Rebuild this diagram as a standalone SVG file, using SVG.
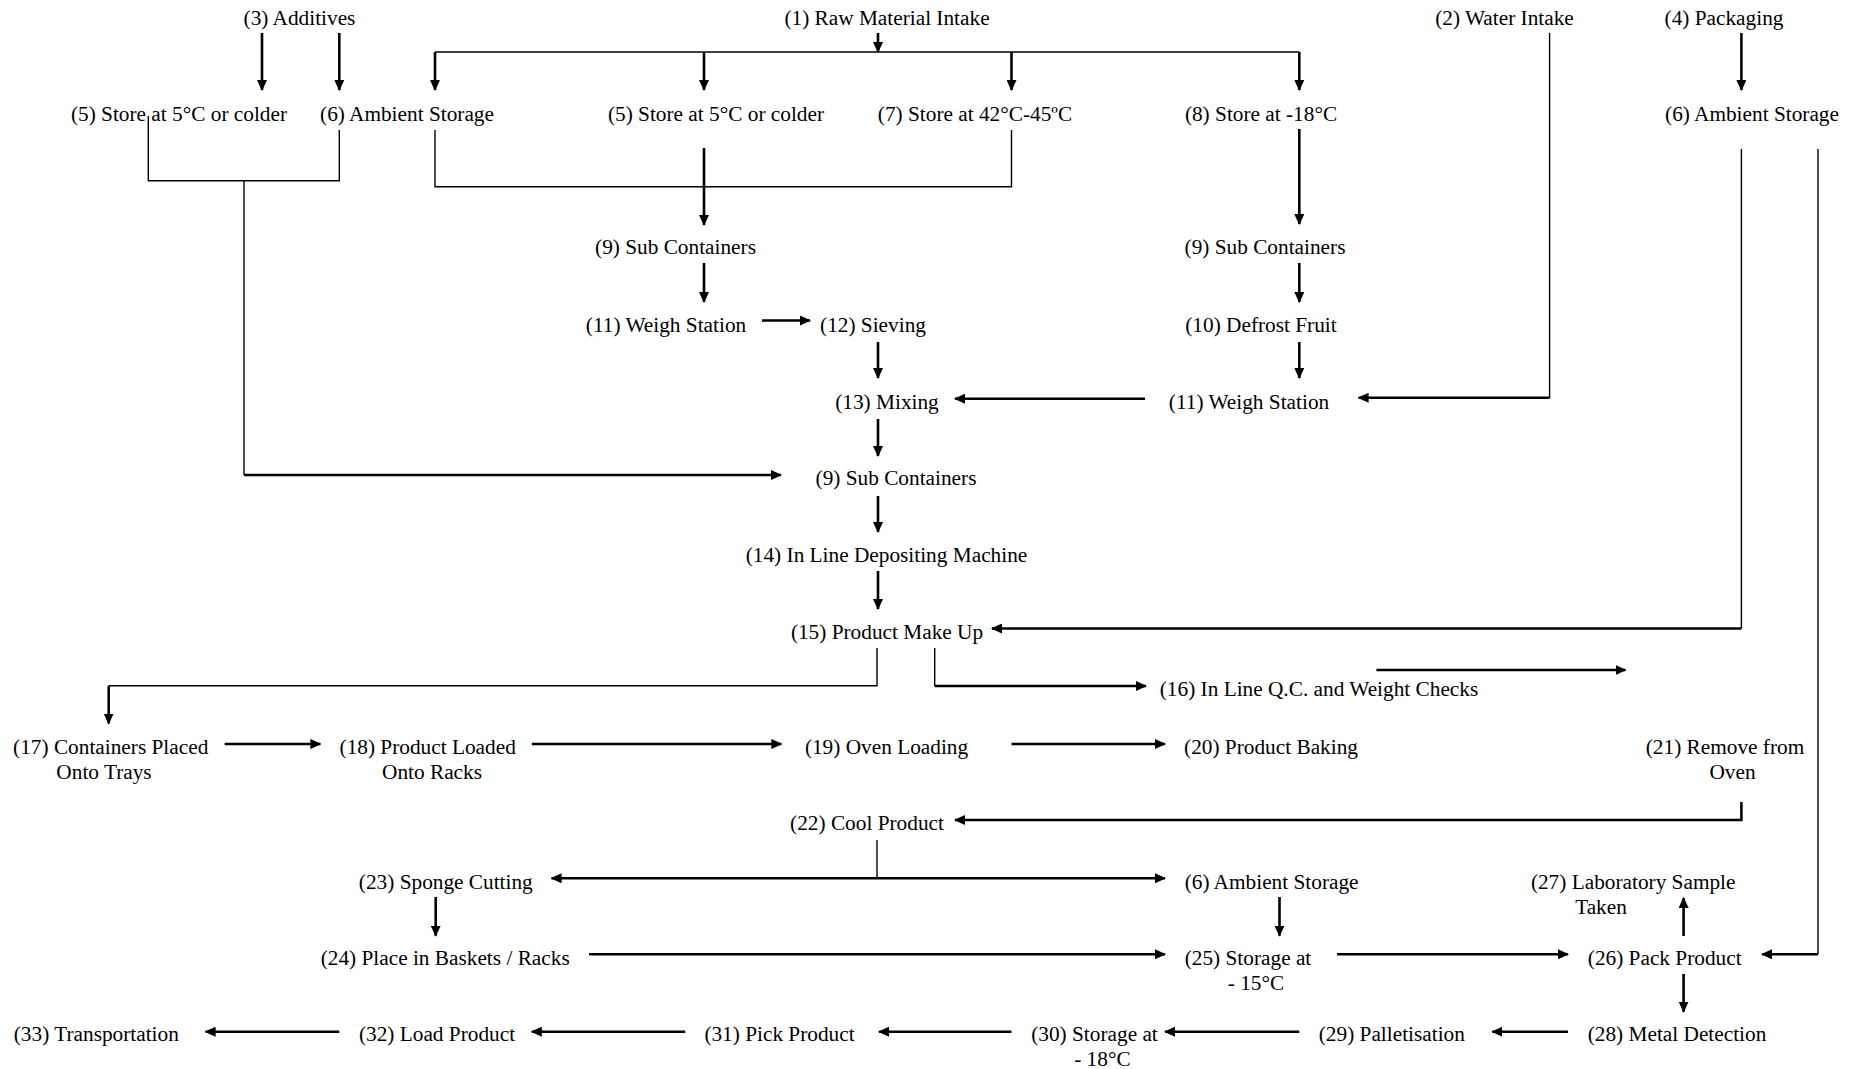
<svg xmlns="http://www.w3.org/2000/svg" width="1860" height="1069" viewBox="0 0 1860 1069">
<defs>
<style>
text { font-family: "Liberation Serif", "Times New Roman", serif; font-size: 21.3px; fill: #000; text-anchor: middle; }
.t { stroke: #000; stroke-width: 2.6; fill: none; }
.n { stroke: #000; stroke-width: 1.4; fill: none; }
.a { marker-end: url(#ah); }
</style>
<marker id="ah" markerUnits="userSpaceOnUse" markerWidth="11" markerHeight="10" refX="10" refY="5" orient="auto" viewBox="0 0 11 10">
<path d="M0,0 L11,5 L0,10 z" fill="#000"/>
</marker>
</defs>
<rect width="1860" height="1069" fill="#fff"/>

<g id="connectors">
<path class="t a" d="M878,33 V52"/>
<path class="n" d="M435,52 H1299.3"/>
<path class="t a" d="M435,52 V90"/>
<path class="t a" d="M704,52 V90"/>
<path class="t a" d="M1011.5,52 V90"/>
<path class="t a" d="M1299.3,52 V90"/>
<path class="t a" d="M262,33 V90"/>
<path class="t a" d="M339.3,33 V90"/>
<path class="t a" d="M1741.4,33 V90"/>
<path class="n" d="M148.3,116 V180.7 H339.3 V130"/>
<path class="n" d="M244,180.7 V475"/>
<path class="t a" d="M244,475 H781"/>
<path class="n" d="M435,130 V186.7 H1011.5 V130"/>
<path class="t a" d="M704,148 V225"/>
<path class="t a" d="M1299.3,129 V224"/>
<path class="n" d="M1549.6,33 V397.7"/>
<path class="t a" d="M1549.6,397.7 H1358.6"/>
<path class="n" d="M1741.4,149 V628.5"/>
<path class="t a" d="M1741.4,628.5 H992"/>
<path class="n" d="M1818,149 V954.3"/>
<path class="t a" d="M1818,954.3 H1762"/>
<path class="t a" d="M704,263 V302"/>
<path class="t a" d="M762,320.5 H810"/>
<path class="t a" d="M878,342 V378"/>
<path class="t a" d="M1299.3,263 V302"/>
<path class="t a" d="M1299.3,342 V378"/>
<path class="t a" d="M1145,398.7 H955"/>
<path class="t a" d="M878,419 V456"/>
<path class="t a" d="M878,496 V532"/>
<path class="t a" d="M878,571 V609"/>
<path class="n" d="M877,648 V685.8 H108.7"/>
<path class="t a" d="M108.7,685.8 V723.5"/>
<path class="n" d="M934.7,648 V686"/>
<path class="t a" d="M934.7,686 H1146"/>
<path class="t a" d="M1376.4,670 H1625.5"/>
<path class="t a" d="M224.6,744 H320.3"/>
<path class="t a" d="M531.8,744 H781.3"/>
<path class="t a" d="M1011.5,744 H1165"/>
<path class="t a" d="M1741.4,802 V820 H955"/>
<path class="n" d="M877,840 V878.3"/>
<path class="t a" d="M877,878.3 H551.6"/>
<path class="t a" d="M877,878.3 H1165"/>
<path class="t a" d="M435.7,897 V935.7"/>
<path class="t a" d="M1279.5,897 V935.7"/>
<path class="t a" d="M1683.6,936 V898"/>
<path class="t a" d="M589,954.3 H1165"/>
<path class="t a" d="M1337,954.3 H1568"/>
<path class="t a" d="M1683.6,974 V1011.7"/>
<path class="t a" d="M1568,1031.7 H1492.3"/>
<path class="t a" d="M1299.3,1031.7 H1165"/>
<path class="t a" d="M1011.5,1031.7 H879"/>
<path class="t a" d="M685.2,1031.7 H531.8"/>
<path class="t a" d="M339.3,1031.7 H205.6"/>
</g>

<g id="n1"><text x="887" y="25">(1) Raw Material Intake</text></g>
<g id="n2"><text x="1504.5" y="25">(2) Water Intake</text></g>
<g id="n3"><text x="299.5" y="25">(3) Additives</text></g>
<g id="n4"><text x="1724" y="25">(4) Packaging</text></g>
<g id="n5a"><text x="179" y="121">(5) Store at 5°C or colder</text></g>
<g id="n6a"><text x="407" y="121">(6) Ambient Storage</text></g>
<g id="n5b"><text x="716" y="121">(5) Store at 5°C or colder</text></g>
<g id="n7"><text x="975" y="121">(7) Store at 42°C-45ºC</text></g>
<g id="n8"><text x="1261" y="121">(8) Store at -18°C</text></g>
<g id="n6b"><text x="1752" y="121">(6) Ambient Storage</text></g>
<g id="n9a"><text x="675.5" y="254">(9) Sub Containers</text></g>
<g id="n9b"><text x="1265" y="254">(9) Sub Containers</text></g>
<g id="n11a"><text x="666" y="332">(11) Weigh Station</text></g>
<g id="n12"><text x="873" y="332">(12) Sieving</text></g>
<g id="n10"><text x="1261" y="332">(10) Defrost Fruit</text></g>
<g id="n13"><text x="887" y="409">(13) Mixing</text></g>
<g id="n11b"><text x="1249" y="409">(11) Weigh Station</text></g>
<g id="n9c"><text x="896" y="485">(9) Sub Containers</text></g>
<g id="n14"><text x="886.5" y="562">(14) In Line Depositing Machine</text></g>
<g id="n15"><text x="887" y="639">(15) Product Make Up</text></g>
<g id="n16"><text x="1319" y="696">(16) In Line Q.C. and Weight Checks</text></g>
<g id="n17"><text x="110.7" y="753.5">(17) Containers Placed</text><text x="104" y="778.5">Onto Trays</text></g>
<g id="n18"><text x="427.7" y="753.5">(18) Product Loaded</text><text x="432" y="778.5">Onto Racks</text></g>
<g id="n19"><text x="886.5" y="753.5">(19) Oven Loading</text></g>
<g id="n20"><text x="1271" y="753.5">(20) Product Baking</text></g>
<g id="n21"><text x="1725" y="753.5">(21) Remove from</text><text x="1732.5" y="778.5">Oven</text></g>
<g id="n22"><text x="867" y="829.5">(22) Cool Product</text></g>
<g id="n23"><text x="445.8" y="889">(23) Sponge Cutting</text></g>
<g id="n6c"><text x="1271.6" y="889">(6) Ambient Storage</text></g>
<g id="n27"><text x="1633.2" y="889">(27) Laboratory Sample</text><text x="1601" y="914">Taken</text></g>
<g id="n24"><text x="445.2" y="965">(24) Place in Baskets / Racks</text></g>
<g id="n25"><text x="1248" y="965">(25) Storage at</text><text x="1256" y="990">- 15°C</text></g>
<g id="n26"><text x="1664.7" y="965">(26) Pack Product</text></g>
<g id="n33"><text x="96.3" y="1041">(33) Transportation</text></g>
<g id="n32"><text x="437" y="1041">(32) Load Product</text></g>
<g id="n31"><text x="779.5" y="1041">(31) Pick Product</text></g>
<g id="n30"><text x="1094.5" y="1041">(30) Storage at</text><text x="1102.4" y="1065.5">- 18°C</text></g>
<g id="n29"><text x="1391.8" y="1041">(29) Palletisation</text></g>
<g id="n28"><text x="1677" y="1041">(28) Metal Detection</text></g>
</svg>
